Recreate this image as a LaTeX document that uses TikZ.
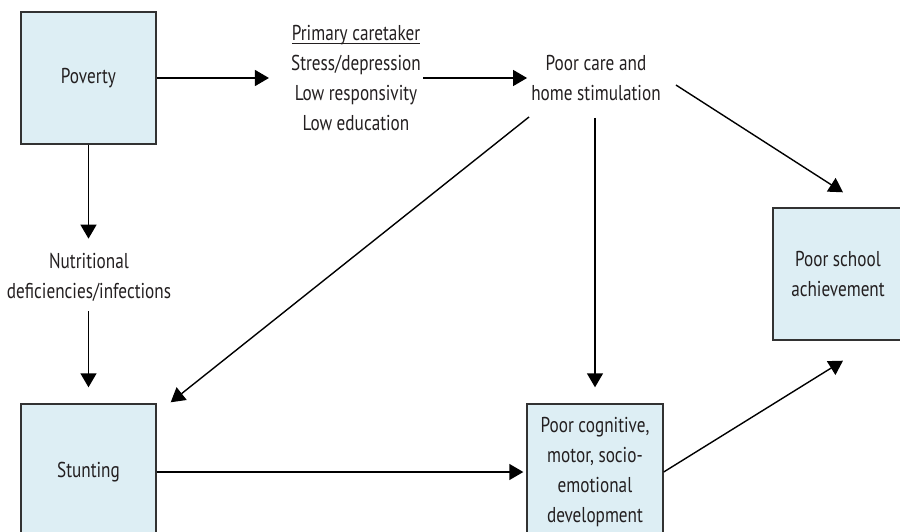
\documentclass[tikz,border=0pt]{standalone}
\usepackage{fontspec}
\setmainfont{PT Sans}[FakeStretch=0.8]
\usetikzlibrary{arrows.meta}
\definecolor{boxfill}{RGB}{221,238,244}
\definecolor{boxline}{RGB}{50,50,50}
\definecolor{ink}{RGB}{35,31,32}
\newcommand\ulinetext[1]{\setbox0\hbox{#1}\rlap{\rule[-3pt]{\wd0}{0.9pt}}\box0}
\tikzset{
  txt/.style={font=\fontsize{21.5}{30}\selectfont, text=ink, align=center, inner sep=2pt},
  fbox/.style={txt, draw=boxline, fill=boxfill, line width=1.4pt, inner sep=0pt},
  arr/.style={line width=1.4pt, draw=black, -{Triangle[length=14pt,width=16pt]}}
}
\begin{document}
\begin{tikzpicture}[x=1pt,y=-1pt]
\useasboundingbox (0,0) rectangle (900,532);
% boxes
\node[fbox, minimum width=135pt, minimum height=132pt] (poverty) at (88.5,78) {Poverty};
\node[fbox, minimum width=135pt, minimum height=136pt] (stunting) at (88.5,472) {Stunting};
\node[fbox, minimum width=136pt, minimum height=136pt] (cog) at (595,472) {Poor cognitive,\\motor, socio-\\emotional\\development};
\node[fbox, minimum width=130pt, minimum height=132pt] (school) at (838,274) {Poor school\\achievement};
% text nodes
\node[txt] (care1) at (356,78) {\ulinetext{Primary caretaker}\\Stress/depression\\Low responsivity\\Low education};
\node[txt] (care) at (596,78) {Poor care and\\home stimulation};
\node[txt] (nutr) at (89,277) {Nutritional\\deficiencies/infections};
% connectors
\draw[arr] (poverty.east) -- ([xshift=-20pt]poverty.east -| care1.west);
\draw[arr] (care1.east |- care.center) -- ([xshift=-2pt]care.west);
\draw[arr] ([yshift=-14pt]care.south west) -- ([xshift=14pt,yshift=1pt]stunting.north east);
\draw[arr, shorten <=15pt, shorten >=16pt] (care.south -| cog.north) -- (cog.north);
\draw[arr] ([xshift=13pt,yshift=-7pt]care.east) -- ([xshift=5pt,yshift=15pt]school.north);
\draw[arr, shorten >=12pt] (poverty.south) -- (poverty.south |- nutr.north);
\draw[arr, shorten <=8pt, shorten >=16pt] (poverty.south |- nutr.south) -- (stunting.north);
\draw[arr, shorten >=3pt] (stunting.east) -- (stunting.east -| cog.west);
\draw[arr] (cog.east) -- ([xshift=5pt,yshift=-20pt]school.south);
\end{tikzpicture}
\end{document}
